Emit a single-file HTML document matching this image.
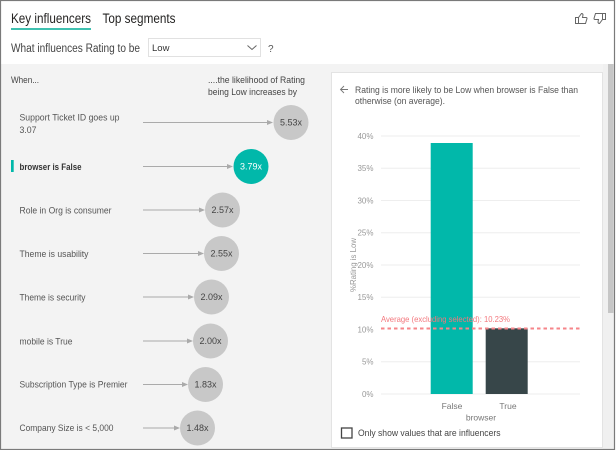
<!DOCTYPE html>
<html><head><meta charset="utf-8"><style>
html,body{margin:0;padding:0;background:#fff;}
svg{display:block;font-family:"Liberation Sans",Arial,sans-serif;}
</style></head><body>
<svg width="616" height="450" viewBox="0 0 616 450" xmlns="http://www.w3.org/2000/svg">
<rect x="0" y="0" width="616" height="450" fill="#ffffff"/>
<!-- gray body -->
<rect x="1" y="64" width="613" height="385" fill="#f3f3f3"/>
<!-- scrollbar -->
<rect x="603" y="64" width="11" height="385" fill="#f0f0f0"/>
<rect x="608" y="64" width="5.5" height="249" fill="#c6c6c6"/>
<!-- outer border -->
<rect x="0.5" y="0.5" width="614" height="449" fill="none" stroke="#7a7a7a" stroke-width="1.2"/>

<!-- tabs -->
<text x="11" y="23" font-size="13.5" fill="#252423" textLength="80" lengthAdjust="spacingAndGlyphs">Key influencers</text>
<rect x="11" y="28" width="80" height="2" fill="#3fc1b0"/>
<text x="102.5" y="23" font-size="13.5" fill="#252423" textLength="73" lengthAdjust="spacingAndGlyphs">Top segments</text>

<!-- thumbs -->
<g fill="none" stroke="#666" stroke-width="1">
<path d="M575.5 23.5 v-6 h3 l3 -4 q1.5 0 1.5 1.5 l-0.5 2.5 h3.5 q1 0 1 1 l-1.5 5 h-10 z M578.5 17.5 v6"/>
<path d="M605.5 13.5 v6 h-3 l-3 4 q-1.5 0 -1.5 -1.5 l0.5 -2.5 h-3.5 q-1 0 -1 -1 l1.5 -5 h10 z M602.5 19.5 v-6"/>
</g>

<!-- question row -->
<text x="11" y="52" font-size="11.5" fill="#444" textLength="129" lengthAdjust="spacingAndGlyphs">What influences Rating to be</text>
<rect x="148.5" y="38.5" width="112" height="18" fill="#fff" stroke="#e1e1e1"/>
<text x="152" y="51" font-size="9.5" fill="#333">Low</text>
<path d="M247.5 45.5 l4.5 4 l4.5 -4" fill="none" stroke="#666" stroke-width="1"/>
<text x="268" y="52" font-size="10" fill="#555">?</text>

<!-- left header -->
<text x="11" y="83" font-size="9.5" fill="#444" textLength="28" lengthAdjust="spacingAndGlyphs">When...</text>
<text x="208" y="83" font-size="9.5" fill="#444" textLength="97" lengthAdjust="spacingAndGlyphs">....the likelihood of Rating</text>
<text x="208" y="95" font-size="9.5" fill="#444" textLength="89" lengthAdjust="spacingAndGlyphs">being Low increases by</text>

<!-- rows -->
<g font-size="9.5" fill="#555">
<text x="19.5" y="120.5" textLength="100" lengthAdjust="spacingAndGlyphs">Support Ticket ID goes up</text>
<text x="19.5" y="133" textLength="17" lengthAdjust="spacingAndGlyphs">3.07</text>
<text x="19.5" y="170" font-weight="bold" fill="#333" textLength="62" lengthAdjust="spacingAndGlyphs">browser is False</text>
<text x="19.5" y="213.5" textLength="92" lengthAdjust="spacingAndGlyphs">Role in Org is consumer</text>
<text x="19.5" y="257" textLength="69" lengthAdjust="spacingAndGlyphs">Theme is usability</text>
<text x="19.5" y="300.5" textLength="66" lengthAdjust="spacingAndGlyphs">Theme is security</text>
<text x="19.5" y="344.5" textLength="53" lengthAdjust="spacingAndGlyphs">mobile is True</text>
<text x="19.5" y="387.5" textLength="108" lengthAdjust="spacingAndGlyphs">Subscription Type is Premier</text>
<text x="19.5" y="431" textLength="94" lengthAdjust="spacingAndGlyphs">Company Size is &lt; 5,000</text>
</g>
<rect x="11" y="160" width="2.7" height="12" fill="#01b8aa"/>

<!-- arrows & circles -->
<g stroke="#aaa" stroke-width="1">
<line x1="143" y1="122.5" x2="268" y2="122.5"/>
<line x1="143" y1="166.5" x2="228" y2="166.5"/>
<line x1="143" y1="210" x2="200" y2="210"/>
<line x1="143" y1="253.5" x2="199" y2="253.5"/>
<line x1="143" y1="297" x2="189" y2="297"/>
<line x1="143" y1="341" x2="188" y2="341"/>
<line x1="143" y1="384.5" x2="183" y2="384.5"/>
<line x1="143" y1="428" x2="175" y2="428"/>
</g>
<g fill="#aaa">
<path d="M267 120 l6 2.5 l-6 2.5z"/>
<path d="M227 164 l6 2.5 l-6 2.5z"/>
<path d="M199 207.5 l6 2.5 l-6 2.5z"/>
<path d="M198 251 l6 2.5 l-6 2.5z"/>
<path d="M188 294.5 l6 2.5 l-6 2.5z"/>
<path d="M187 338.5 l6 2.5 l-6 2.5z"/>
<path d="M182 382 l6 2.5 l-6 2.5z"/>
<path d="M174 425.5 l6 2.5 l-6 2.5z"/>
</g>
<g fill="#c8c8c8">
<circle cx="291" cy="122.5" r="17.5"/>
<circle cx="222.5" cy="210" r="17.5"/>
<circle cx="221.5" cy="253.5" r="17.5"/>
<circle cx="211.5" cy="297" r="17.5"/>
<circle cx="210.5" cy="341" r="17.5"/>
<circle cx="205.5" cy="384.5" r="17.5"/>
<circle cx="197.5" cy="428" r="17.5"/>
</g>
<circle cx="251" cy="166.5" r="17.5" fill="#01b8aa"/>
<g font-size="9" fill="#444" text-anchor="middle">
<text x="291" y="125.5">5.53x</text>
<text x="251" y="169.5" fill="#fff">3.79x</text>
<text x="222.5" y="213">2.57x</text>
<text x="221.5" y="256.5">2.55x</text>
<text x="211.5" y="300">2.09x</text>
<text x="210.5" y="344">2.00x</text>
<text x="205.5" y="387.5">1.83x</text>
<text x="197.5" y="431">1.48x</text>
</g>

<!-- right card -->
<rect x="331.5" y="72.5" width="271" height="375" fill="#fff" stroke="#e3e3e3"/>
<path d="M348 89.5 h-7 M344 86 l-3.5 3.5 l3.5 3.5" fill="none" stroke="#777" stroke-width="0.9"/>
<text x="355" y="93" font-size="9.5" fill="#555" textLength="223" lengthAdjust="spacingAndGlyphs">Rating is more likely to be Low when browser is False than</text>
<text x="355" y="104" font-size="9.5" fill="#555" textLength="90" lengthAdjust="spacingAndGlyphs">otherwise (on average).</text>

<!-- gridlines -->
<g stroke="#eeeeee" stroke-width="1">
<line x1="381" y1="136" x2="580" y2="136"/>
<line x1="381" y1="168.25" x2="580" y2="168.25"/>
<line x1="381" y1="200.5" x2="580" y2="200.5"/>
<line x1="381" y1="232.75" x2="580" y2="232.75"/>
<line x1="381" y1="265" x2="580" y2="265"/>
<line x1="381" y1="297.25" x2="580" y2="297.25"/>
<line x1="381" y1="361.75" x2="580" y2="361.75"/>
<line x1="381" y1="394" x2="580" y2="394"/>
</g>
<g font-size="8" fill="#999" text-anchor="end">
<text x="373.5" y="139">40%</text>
<text x="373.5" y="171">35%</text>
<text x="373.5" y="203.5">30%</text>
<text x="373.5" y="235.5">25%</text>
<text x="373.5" y="268">20%</text>
<text x="373.5" y="300">15%</text>
<text x="373.5" y="332.5">10%</text>
<text x="373.5" y="364.5">5%</text>
<text x="373.5" y="397">0%</text>
</g>
<text transform="translate(356,265) rotate(-90)" font-size="8" fill="#999" text-anchor="middle" textLength="54" lengthAdjust="spacingAndGlyphs">%Rating is Low</text>

<!-- bars -->
<rect x="430.7" y="143" width="42" height="251" fill="#01b8aa"/>
<rect x="485.7" y="328.3" width="42" height="65.7" fill="#374649"/>

<!-- average -->
<line x1="381" y1="328.5" x2="580" y2="328.5" stroke="#f6858a" stroke-width="2" stroke-dasharray="3.5,3"/>
<text x="381" y="322" font-size="8.5" fill="#f3777d" textLength="129" lengthAdjust="spacingAndGlyphs">Average (excluding selected): 10.23%</text>

<!-- x labels -->
<g font-size="8.5" fill="#777" text-anchor="middle">
<text x="452" y="409">False</text>
<text x="508" y="409">True</text>
<text x="481" y="420.5">browser</text>
</g>

<!-- checkbox -->
<rect x="341.5" y="428" width="10.5" height="10" fill="#fff" stroke="#444" stroke-width="1.3"/>
<text x="358" y="436" font-size="9.5" fill="#444" textLength="142.5" lengthAdjust="spacingAndGlyphs">Only show values that are influencers</text>
</svg>
</body></html>
